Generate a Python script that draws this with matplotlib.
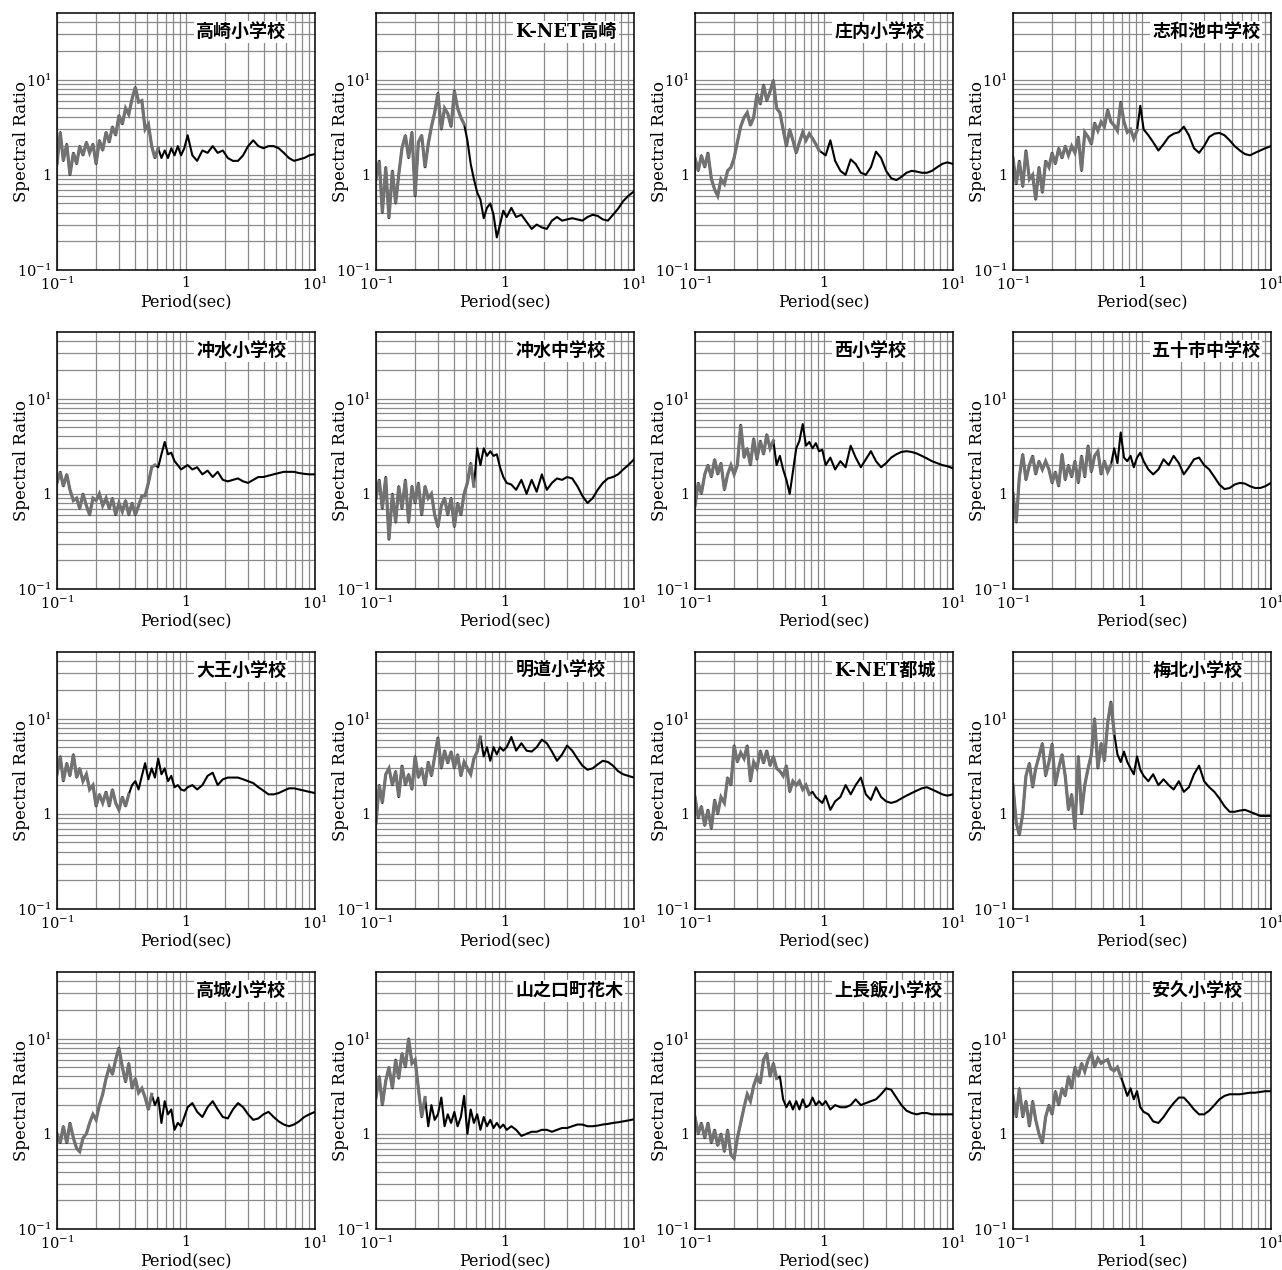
"""Spectral ratio curves for sixteen strong-motion sites, 4x4 log-log panels."""

import matplotlib

matplotlib.use("Agg")
import matplotlib.pyplot as plt
from matplotlib.ticker import FixedLocator, NullFormatter

plt.rcParams["font.family"] = ["DejaVu Serif", "Noto Sans CJK JP"]
plt.rcParams["mathtext.fontset"] = "dejavuserif"

# shared period axis (sec)
PERIOD = [
    0.100, 0.106, 0.112, 0.119, 0.126, 0.134, 0.142, 0.150, 0.159, 0.169,
    0.179, 0.190, 0.201, 0.213, 0.226, 0.240, 0.254, 0.269, 0.285, 0.302,
    0.321, 0.340, 0.360, 0.382, 0.405, 0.429, 0.455, 0.482, 0.511, 0.542,
    0.574, 0.609, 0.645, 0.684, 0.725, 0.769, 0.815, 0.864, 0.915, 0.970,
    1.03, 1.12, 1.22, 1.34, 1.47, 1.61, 1.76, 1.93, 2.11, 2.31,
    2.53, 2.77, 3.03, 3.32, 3.64, 3.98, 4.36, 4.78, 5.23, 5.73,
    6.28, 6.87, 7.53, 8.25, 9.03, 10.0,
]

takasaki_es = [
    1.3, 2.8, 1.4, 2.1, 1.0, 1.7, 1.3, 2.0, 1.6, 2.2,
    1.7, 2.1, 1.3, 2.3, 1.8, 2.8, 2.2, 3.2, 2.6, 4.2,
    3.4, 5.0, 4.3, 6.3, 8.3, 5.8, 6.0, 3.0, 3.4, 2.0,
    1.5, 1.9, 1.5, 1.8, 1.5, 1.9, 1.6, 2.0, 1.6, 1.9,
    2.6, 1.6, 1.4, 1.8, 1.7, 2.0, 1.7, 1.8, 1.5, 1.4,
    1.4, 1.6, 2.0, 2.3, 2.0, 1.9, 2.0, 2.0, 1.9, 1.7,
    1.5, 1.4, 1.45, 1.5, 1.6, 1.65,
]
knet_takasaki = [
    0.9, 1.4, 0.4, 1.2, 0.35, 1.1, 0.5, 1.0, 1.9, 2.6,
    1.5, 2.8, 0.6, 2.2, 2.6, 1.2, 2.1, 3.2, 4.5, 7.2,
    3.0, 5.0, 4.4, 3.2, 7.6, 5.0, 4.0, 3.4, 2.3, 1.3,
    0.9, 0.65, 0.55, 0.35, 0.45, 0.5, 0.38, 0.22, 0.3, 0.42,
    0.36, 0.45, 0.36, 0.38, 0.32, 0.27, 0.3, 0.28, 0.27, 0.33,
    0.36, 0.33, 0.34, 0.35, 0.34, 0.33, 0.36, 0.38, 0.37, 0.34,
    0.33, 0.38, 0.44, 0.53, 0.6, 0.67,
]
shonai_es = [
    1.5, 1.1, 1.6, 1.2, 1.7, 0.9, 0.7, 0.6, 0.9, 0.8,
    1.1, 1.2, 1.5, 2.2, 3.2, 4.0, 4.5, 3.3, 4.0, 7.0,
    5.5, 8.8, 6.0, 7.5, 9.8, 5.0, 4.5, 3.0, 2.0, 3.0,
    2.3, 1.7, 2.2, 2.8, 2.3, 2.7, 2.4, 2.1, 1.8, 1.7,
    1.6, 2.3, 1.4, 1.1, 1.0, 1.45, 1.3, 1.05, 1.0, 1.2,
    1.75, 1.5, 1.1, 0.92, 0.88, 0.95, 1.05, 1.1, 1.08, 1.05,
    1.05, 1.1, 1.2, 1.3, 1.35, 1.3,
]
shiwachi_jhs = [
    1.5, 0.8, 1.4, 0.75, 1.8, 0.9, 1.0, 0.55, 1.2, 0.65,
    1.4, 1.2, 1.7, 1.3, 1.9, 1.5, 2.0, 1.6, 2.0, 1.7,
    2.5, 1.1, 2.8, 2.5, 2.1, 3.5, 2.9, 3.6, 3.2, 4.8,
    3.6, 3.3, 2.9, 5.8, 3.6, 2.8, 3.0, 2.4, 2.9, 5.3,
    3.0, 2.6, 2.2, 1.8, 2.1, 2.5, 2.7, 2.8, 3.2, 2.6,
    1.9, 1.7, 2.0, 2.5, 2.7, 2.75, 2.6, 2.3, 2.0, 1.8,
    1.65, 1.6, 1.7, 1.8, 1.9, 2.0,
]
okimizu_es = [
    1.3, 1.7, 1.2, 1.6, 1.1, 0.85, 0.9, 0.7, 1.0, 0.75,
    0.6, 0.9, 0.85, 1.0, 0.75, 0.9, 0.7, 0.9, 0.6, 0.8,
    0.65, 0.85, 0.6, 0.8, 0.6, 0.75, 0.95, 0.95, 1.3, 1.9,
    2.0, 1.9, 2.6, 3.5, 2.6, 2.7, 2.2, 2.0, 1.8, 1.9,
    2.0, 1.8, 1.9, 1.6, 1.75, 1.5, 1.7, 1.4, 1.35, 1.4,
    1.45, 1.35, 1.3, 1.4, 1.5, 1.5, 1.55, 1.6, 1.65, 1.7,
    1.7, 1.7, 1.65, 1.62, 1.6, 1.6,
]
okimizu_jhs = [
    0.9, 1.4, 0.7, 1.5, 0.33, 1.0, 0.5, 1.2, 0.7, 1.4,
    0.5, 1.2, 0.8, 1.3, 0.6, 1.2, 0.9, 1.0, 0.6, 0.45,
    0.75, 0.9, 0.6, 0.9, 0.45, 0.8, 0.6, 1.0, 1.3, 2.1,
    1.2, 3.0, 2.0, 3.0, 2.5, 2.8, 2.5, 2.6, 1.9, 1.5,
    1.3, 1.25, 1.1, 1.4, 1.0, 1.4, 1.05, 1.6, 1.1, 1.3,
    1.45, 1.4, 1.5, 1.45, 1.2, 0.95, 0.8, 0.9, 1.1, 1.3,
    1.45, 1.5, 1.6, 1.8, 2.0, 2.3,
]
nishi_es = [
    0.75, 1.3, 1.0, 1.6, 2.0, 1.5, 2.3, 1.6, 2.1, 1.1,
    1.6, 2.0, 1.6, 2.0, 5.3, 2.4, 3.0, 2.0, 3.8, 2.3,
    3.6, 2.6, 4.2, 3.0, 3.6, 2.0, 2.5, 1.8, 1.4, 1.0,
    1.7, 3.0, 3.6, 5.4, 3.2, 3.5, 3.0, 3.4, 2.8, 2.9,
    2.0, 2.4, 1.8, 2.2, 1.9, 3.2, 2.4, 1.9, 2.3, 2.8,
    2.2, 1.9, 2.1, 2.4, 2.6, 2.75, 2.8, 2.75, 2.65, 2.5,
    2.35, 2.2, 2.1, 2.0, 1.95, 1.85,
]
isoichi_jhs = [
    1.0, 0.5, 1.5, 2.6, 1.4, 2.0, 2.5, 1.6, 2.2, 1.8,
    2.2, 1.8, 1.3, 1.7, 1.2, 2.6, 1.4, 2.0, 1.5, 2.2,
    1.3, 2.5, 1.5, 3.2, 1.7, 2.5, 2.8, 1.6, 2.2, 1.7,
    2.0, 3.0, 2.1, 4.4, 2.4, 2.2, 2.5, 1.9, 2.4, 2.7,
    2.2, 1.8, 1.6, 1.8, 2.3, 2.0, 2.5, 2.1, 1.6, 1.9,
    2.3, 2.4, 2.0, 1.8, 1.5, 1.25, 1.12, 1.15, 1.25, 1.3,
    1.28, 1.2, 1.15, 1.15, 1.2, 1.3,
]
daio_es = [
    2.6, 4.0, 2.2, 3.4, 2.5, 4.2, 2.4, 3.0, 2.2, 2.6,
    1.8, 2.0, 1.2, 1.6, 1.3, 1.7, 1.2, 1.8, 1.3, 1.1,
    1.5, 1.2, 1.6, 2.0, 2.2, 1.8, 2.5, 3.4, 2.3, 3.0,
    2.4, 3.8, 2.6, 3.0, 2.2, 2.5, 1.9, 2.0, 1.8, 1.75,
    1.9, 2.0, 1.8, 2.0, 2.5, 2.7, 2.0, 2.3, 2.4, 2.4,
    2.4, 2.3, 2.2, 2.1, 1.9, 1.75, 1.6, 1.6, 1.65, 1.75,
    1.85, 1.85, 1.8, 1.75, 1.7, 1.65,
]
meido_es = [
    0.8, 2.0, 1.3, 2.6, 3.0, 2.0, 2.8, 1.5, 3.2, 2.0,
    2.6, 1.8, 4.0, 2.4, 3.0, 2.0, 3.5, 2.5, 4.0, 6.3,
    3.0, 4.6, 3.4, 4.5, 3.0, 4.2, 2.5, 3.5, 3.0, 2.6,
    3.8, 4.5, 6.4, 4.0, 5.0, 3.6, 5.0, 4.2, 5.0, 4.6,
    5.0, 6.4, 4.6, 5.5, 4.6, 4.5, 5.0, 6.0, 5.5, 4.5,
    3.6, 4.2, 5.2, 4.6, 3.8, 3.2, 2.9, 3.0, 3.3, 3.6,
    3.5, 3.2, 2.8, 2.6, 2.5, 2.4,
]
knet_miyakonojo = [
    1.5, 0.9, 1.2, 0.75, 1.1, 0.7, 1.4, 1.0, 1.5, 1.3,
    2.4, 2.0, 5.2, 3.5, 4.4, 3.8, 5.2, 2.2, 3.5, 3.0,
    4.6, 3.4, 4.6, 3.2, 4.0, 3.0, 2.8, 2.5, 3.2, 1.7,
    2.2, 2.0, 2.2, 1.8, 2.0, 1.6, 1.7, 1.5, 1.4, 1.3,
    1.55, 1.1, 1.35, 1.5, 2.0, 1.6, 2.0, 2.4, 1.6, 1.4,
    1.9, 1.5, 1.35, 1.3, 1.35, 1.45, 1.55, 1.65, 1.75, 1.85,
    1.9, 1.8, 1.7, 1.6, 1.55, 1.6,
]
umekita_es = [
    2.0, 0.8, 0.6, 1.0, 2.5, 3.4, 1.9, 3.0, 4.0, 5.5,
    2.5, 3.5, 5.4, 2.0, 3.0, 4.2, 2.5, 1.1, 1.6, 0.7,
    4.0, 1.0, 2.0, 3.0, 4.2, 10.0, 3.0, 5.5, 3.6, 9.0,
    15.0, 7.0, 4.2, 3.5, 4.5, 3.5, 3.0, 2.6, 4.0, 2.9,
    2.5, 2.2, 2.6, 2.0, 2.3, 2.0, 1.8, 2.2, 1.7, 1.9,
    2.6, 3.2, 2.2, 1.9, 1.7, 1.45, 1.2, 1.05, 1.05, 1.08,
    1.1, 1.05, 1.0, 0.95, 0.95, 0.95,
]
takajo_es = [
    1.0, 0.8, 1.2, 0.8, 1.3, 0.9, 0.7, 0.65, 0.9, 1.0,
    1.3, 1.6, 1.4, 2.0, 2.6, 3.8, 5.0, 4.2, 6.0, 8.0,
    5.0, 3.5, 5.5, 3.0, 3.8, 2.7, 3.0, 2.4, 1.8, 2.6,
    2.0, 2.4, 1.3, 2.2, 1.6, 1.8, 1.1, 1.3, 1.2, 1.5,
    1.9, 2.1, 1.7, 1.5, 1.9, 2.2, 1.8, 1.5, 1.45, 1.8,
    2.1, 1.9, 1.6, 1.4, 1.45, 1.6, 1.7, 1.5, 1.35, 1.25,
    1.2, 1.25, 1.35, 1.5, 1.6, 1.7,
]
yamanokuchi_hanaki = [
    2.4, 4.0, 2.0, 3.6, 5.0, 3.0, 6.0, 3.8, 7.0, 5.0,
    10.0, 5.5, 6.0, 3.0, 1.5, 2.4, 1.2, 2.0, 1.4, 1.6,
    2.4, 1.2, 1.6, 1.3, 1.7, 1.2, 1.5, 2.5, 1.0, 1.8,
    1.3, 1.6, 1.1, 1.5, 1.2, 1.4, 1.15, 1.3, 1.15, 1.25,
    1.1, 1.2, 1.1, 0.95, 1.0, 1.05, 1.05, 1.1, 1.1, 1.05,
    1.1, 1.15, 1.15, 1.2, 1.25, 1.25, 1.2, 1.2, 1.22, 1.25,
    1.27, 1.3, 1.32, 1.35, 1.38, 1.42,
]
kaminagae_es = [
    1.5, 1.0, 1.3, 0.9, 1.3, 0.8, 1.1, 0.75, 1.0, 0.65,
    1.1, 0.6, 0.55, 0.9, 1.3, 1.9, 2.6, 2.2, 3.2, 4.0,
    3.4, 6.0, 7.0, 4.0, 5.5, 3.8, 4.0, 2.3, 1.9, 2.2,
    1.8, 2.2, 1.8, 2.3, 1.9, 2.0, 2.4, 2.0, 2.2, 2.0,
    2.2, 1.8, 2.0, 1.9, 1.9, 2.0, 2.3, 2.0, 2.1, 2.2,
    2.3, 2.6, 3.0, 2.9, 2.4, 2.0, 1.75, 1.65, 1.6, 1.65,
    1.65, 1.6, 1.6, 1.6, 1.6, 1.6,
]
yasuhisa_es = [
    2.5, 1.5, 3.0, 1.5, 2.2, 1.2, 2.2, 1.4, 1.0, 0.8,
    1.5, 2.0, 1.6, 2.8, 2.0, 3.0, 2.5, 4.0, 3.0, 5.0,
    4.0, 5.5, 4.5, 6.0, 7.0, 5.0, 6.2, 5.5, 5.8, 6.0,
    4.8, 4.6, 5.0, 4.0, 3.2, 2.5, 3.0, 2.3, 2.8, 1.9,
    1.7, 1.6, 1.35, 1.3, 1.5, 1.8, 2.1, 2.4, 2.4, 2.1,
    1.8, 1.6, 1.6, 1.75, 2.0, 2.3, 2.5, 2.6, 2.6, 2.6,
    2.65, 2.7, 2.7, 2.75, 2.8, 2.8,
]

STATIONS = [
    "高崎小学校", "K-NET高崎", "庄内小学校", "志和池中学校",
    "冲水小学校", "冲水中学校", "西小学校", "五十市中学校",
    "大王小学校", "明道小学校", "K-NET都城", "梅北小学校",
    "高城小学校", "山之口町花木", "上長飯小学校", "安久小学校",
]
# period (sec) up to which the noisy short-period part is drawn in grey
GREY_UNTIL = [
    0.61, 0.50, 0.92, 0.95,
    0.60, 0.58, 0.41, 0.60,
    0.37, 0.65, 0.80, 0.62,
    0.55, 0.24, 0.43, 0.72,
]
RATIOS = [
    takasaki_es, knet_takasaki, shonai_es, shiwachi_jhs,
    okimizu_es, okimizu_jhs, nishi_es, isoichi_jhs,
    daio_es, meido_es, knet_miyakonojo, umekita_es,
    takajo_es, yamanokuchi_hanaki, kaminagae_es, yasuhisa_es,
]

FIG_W, FIG_H = 1282, 1270
COL_LEFT = [57, 376, 695, 1013]
ROW_TOP = [13, 332, 652, 972]
AX_W, AX_H = 258, 257

fig = plt.figure(figsize=(FIG_W / 100, FIG_H / 100), dpi=100)

for k, (name, ratio, grey_until) in enumerate(zip(STATIONS, RATIOS, GREY_UNTIL)):
    row, col = divmod(k, 4)
    ax = fig.add_axes([
        COL_LEFT[col] / FIG_W,
        1 - (ROW_TOP[row] + AX_H) / FIG_H,
        AX_W / FIG_W,
        AX_H / FIG_H,
    ])
    ax.set_xscale("log")
    ax.set_yscale("log")
    ax.set_xlim(0.1, 10)
    ax.set_ylim(0.1, 50)

    ax.plot(PERIOD, ratio, color="black", lw=1.5, zorder=3)
    short_p = [p for p in PERIOD if p <= grey_until]
    ax.plot(short_p, ratio[:len(short_p)], color="#727272", lw=2.3,
            solid_joinstyle="miter", zorder=4)

    ax.xaxis.set_major_locator(FixedLocator([0.1, 1, 10]))
    ax.xaxis.set_minor_locator(FixedLocator(
        [0.2, 0.3, 0.4, 0.5, 0.6, 0.7, 0.8, 0.9, 2, 3, 4, 5, 6, 7, 8, 9]))
    ax.yaxis.set_major_locator(FixedLocator([0.1, 1, 10]))
    ax.yaxis.set_minor_locator(FixedLocator(
        [0.2, 0.3, 0.4, 0.5, 0.6, 0.7, 0.8, 0.9,
         2, 3, 4, 5, 6, 7, 8, 9, 20, 30, 40]))
    ax.xaxis.set_minor_formatter(NullFormatter())
    ax.yaxis.set_minor_formatter(NullFormatter())
    ax.set_xticklabels([r"10$^{-1}$", "1", r"10$^{1}$"])
    ax.set_yticklabels([r"10$^{-1}$", "1", r"10$^{1}$"])
    ax.tick_params(which="both", length=0, labelsize=10.5, pad=4)

    ax.grid(True, which="both", color="#8a8a8a", lw=0.9)
    ax.set_axisbelow(True)
    for spine in ax.spines.values():
        spine.set_linewidth(1.1)
        spine.set_zorder(5)

    ax.set_xlabel("Period(sec)", fontsize=11.5)
    ax.set_ylabel("Spectral Ratio", fontsize=12)
    ax.xaxis.set_label_coords(0.5, -0.09)
    ax.yaxis.set_label_coords(-0.105, 0.5)

    ax.text(0.54, 0.925, name, transform=ax.transAxes, ha="left",
            va="center", fontsize=13, fontweight="bold", zorder=6,
            bbox=dict(facecolor="white", edgecolor="none", pad=1.5))

fig.savefig("out.png", dpi=100)
